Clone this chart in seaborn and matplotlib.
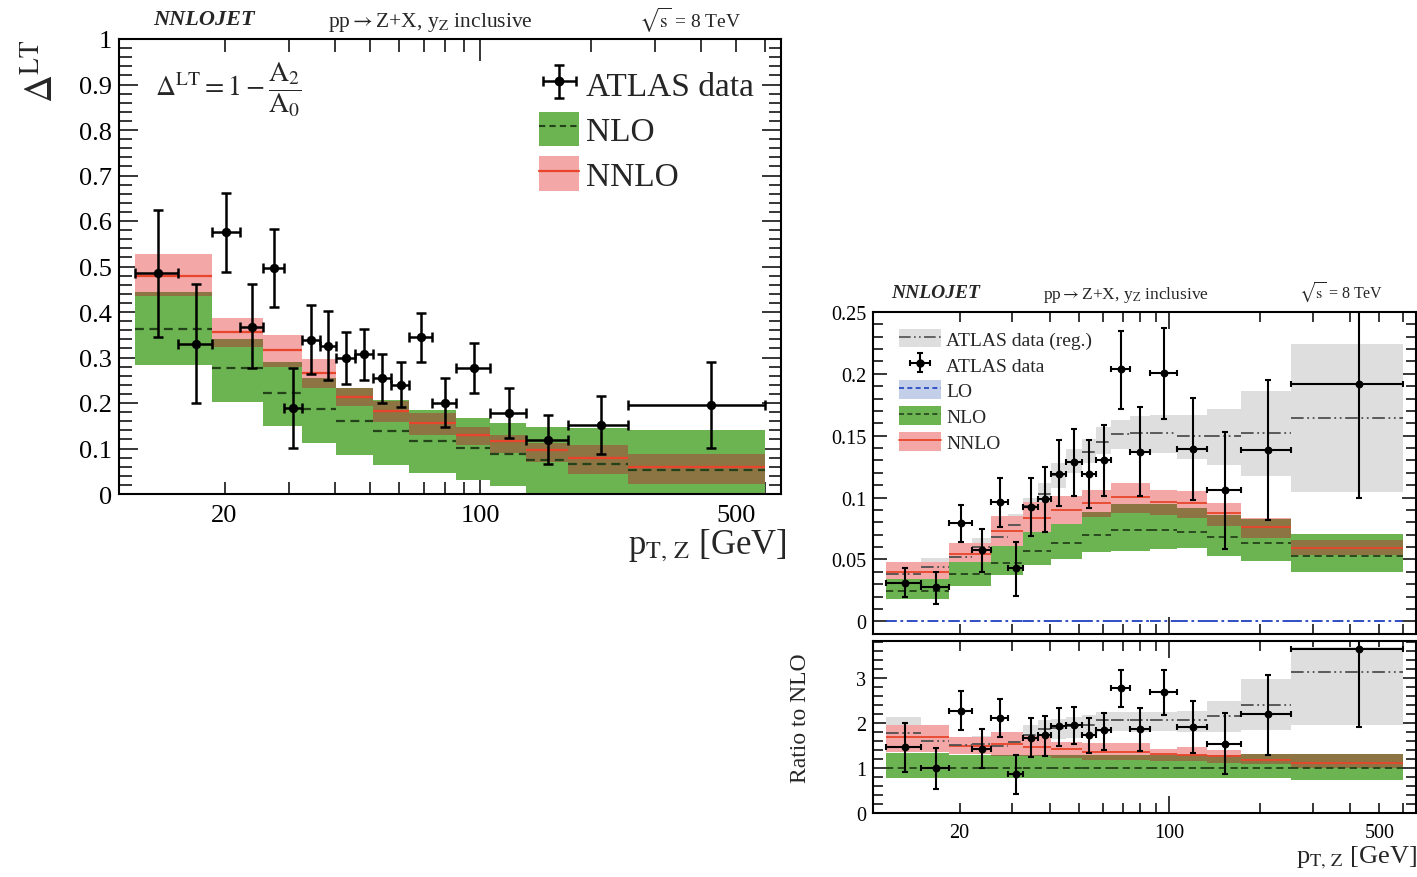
import numpy as np
import matplotlib
matplotlib.use('Agg')
import matplotlib.pyplot as plt
import matplotlib.ticker as mticker
from matplotlib.patches import Patch
from matplotlib.lines import Line2D
import seaborn as sns

# bin edges in p_T,Z [GeV]
data_edges = [11.4, 14.9, 18.5, 22.0, 25.5, 29.0, 32.6, 36.4, 40.4, 45.4, 51.0,
              57.0, 64.0, 73.7, 86.0, 106.0, 133.0, 173.0, 253.0, 600.0]
theo_edges = [11.4, 18.5, 25.5, 32.6, 40.4, 51.0, 64.0, 86.0, 106.0, 133.0, 173.0, 253.0, 600.0]

# left panel: Delta^LT
dlt_data = [0.485, 0.330, 0.575, 0.368, 0.496, 0.188, 0.339, 0.326, 0.300, 0.308,
            0.256, 0.240, 0.344, 0.201, 0.278, 0.177, 0.119, 0.151, 0.195]
dlt_data_hi = [0.624, 0.461, 0.662, 0.461, 0.582, 0.276, 0.416, 0.403, 0.357, 0.363,
               0.308, 0.290, 0.398, 0.254, 0.332, 0.232, 0.173, 0.215, 0.291]
dlt_data_lo = [0.345, 0.200, 0.489, 0.276, 0.411, 0.102, 0.264, 0.251, 0.241, 0.251,
               0.201, 0.192, 0.290, 0.147, 0.223, 0.124, 0.065, 0.087, 0.102]
dlt_nlo = [0.363, 0.276, 0.223, 0.186, 0.160, 0.138, 0.116, 0.102, 0.087, 0.075, 0.066, 0.053]
dlt_nlo_lo = [0.284, 0.203, 0.149, 0.113, 0.085, 0.063, 0.046, 0.031, 0.018, -0.02, -0.02, -0.02]
dlt_nlo_hi = [0.444, 0.340, 0.291, 0.256, 0.234, 0.206, 0.184, 0.166, 0.157, 0.147, 0.144, 0.140]
dlt_nnlo = [0.479, 0.357, 0.317, 0.267, 0.214, 0.183, 0.156, 0.129, 0.116, 0.097, 0.079, 0.060]
dlt_nnlo_lo = [0.436, 0.324, 0.279, 0.234, 0.193, 0.158, 0.130, 0.107, 0.090, 0.070, 0.044, 0.022]
dlt_nnlo_hi = [0.527, 0.387, 0.350, 0.296, 0.233, 0.205, 0.177, 0.147, 0.130, 0.112, 0.107, 0.088]

# right panel: A2 (top)
a2_data = [0.0311, 0.0276, 0.0792, 0.0576, 0.0968, 0.0427, 0.0927, 0.0986, 0.1189, 0.1289,
           0.1189, 0.1303, 0.2040, 0.1372, 0.2004, 0.1394, 0.1059, 0.1384, 0.1921]
a2_data_hi = [0.0427, 0.0397, 0.0938, 0.0749, 0.1162, 0.0641, 0.1162, 0.1249, 0.1465, 0.1554,
              0.1465, 0.1586, 0.2350, 0.1734, 0.2367, 0.1802, 0.1530, 0.1948, 0.2900]
a2_data_lo = [0.0195, 0.0143, 0.0641, 0.0397, 0.0765, 0.0208, 0.0689, 0.0722, 0.0932, 0.1014,
              0.0919, 0.1014, 0.1718, 0.1016, 0.1638, 0.0978, 0.0588, 0.0820, 0.0994]
a2_reg = [0.0386, 0.0441, 0.0522, 0.0600, 0.0684, 0.0778, 0.0930, 0.1030, 0.1180, 0.1290,
          0.1370, 0.1450, 0.1510, 0.1518, 0.1518, 0.1496, 0.1496, 0.1518, 0.1645]
a2_reg_lo = [0.031, 0.036, 0.045, 0.052, 0.060, 0.069, 0.085, 0.095, 0.108, 0.120,
             0.128, 0.135, 0.139, 0.1364, 0.1364, 0.131, 0.1261, 0.1175, 0.1045]
a2_reg_hi = [0.046, 0.0514, 0.060, 0.0676, 0.0765, 0.0865, 0.0995, 0.112, 0.128, 0.139,
             0.147, 0.157, 0.163, 0.166, 0.1671, 0.1671, 0.1712, 0.1861, 0.2239]
a2_lo_order = [0.0] * 12
a2_nlo = [0.0243, 0.0378, 0.0473, 0.0564, 0.0632, 0.0698, 0.0740, 0.0738, 0.0725, 0.0684, 0.0630, 0.0526]
a2_nlo_lo = [0.0181, 0.0289, 0.0370, 0.0451, 0.0505, 0.0556, 0.0570, 0.0583, 0.0590, 0.0530, 0.0488, 0.0397]
a2_nlo_hi = [0.0343, 0.0483, 0.0608, 0.0721, 0.0788, 0.0887, 0.0945, 0.0950, 0.0916, 0.0858, 0.0826, 0.0702]
a2_nnlo = [0.0397, 0.0545, 0.0726, 0.0834, 0.0902, 0.0955, 0.1008, 0.0968, 0.0953, 0.0872, 0.0765, 0.0594]
a2_nnlo_lo = [0.0343, 0.0475, 0.0608, 0.0721, 0.0788, 0.0840, 0.0877, 0.0860, 0.0836, 0.0773, 0.0675, 0.0532]
a2_nnlo_hi = [0.0478, 0.0634, 0.0851, 0.0964, 0.1012, 0.1064, 0.1118, 0.1064, 0.1054, 0.0958, 0.0836, 0.0653]

# right panel: ratio to NLO (bottom)
r_data = [1.47, 1.00, 2.28, 1.43, 2.12, 0.87, 1.67, 1.73, 1.93, 1.97,
          1.73, 1.84, 2.79, 1.86, 2.69, 1.91, 1.54, 2.21, 3.65]
r_data_hi = [2.00, 1.45, 2.71, 1.86, 2.53, 1.30, 2.12, 2.15, 2.34, 2.37,
             2.12, 2.23, 3.19, 2.34, 3.19, 2.50, 2.22, 3.08, 4.60]
r_data_lo = [0.91, 0.54, 1.84, 1.01, 1.69, 0.43, 1.24, 1.27, 1.49, 1.54,
             1.34, 1.41, 2.36, 1.37, 2.19, 1.33, 0.87, 1.30, 1.91]
r_reg = [1.79, 1.60, 1.52, 1.53, 1.50, 1.58, 1.73, 1.87, 1.90, 1.93,
         1.97, 2.06, 2.06, 2.06, 2.06, 2.06, 2.16, 2.41, 3.13]
r_reg_lo = [1.36, 1.35, 1.32, 1.32, 1.30, 1.35, 1.50, 1.62, 1.65, 1.68,
            1.72, 1.80, 1.83, 1.80, 1.82, 1.80, 1.80, 1.84, 1.97]
r_reg_hi = [2.13, 1.90, 1.70, 1.72, 1.72, 1.80, 1.95, 2.06, 2.10, 2.13,
            2.18, 2.24, 2.26, 2.24, 2.26, 2.28, 2.50, 2.99, 3.70]
r_nlo = [1.0] * 12
r_nlo_lo = [0.79, 0.79, 0.79, 0.79, 0.79, 0.79, 0.79, 0.79, 0.79, 0.79, 0.79, 0.74]
r_nlo_hi = [1.33, 1.30, 1.30, 1.30, 1.30, 1.30, 1.30, 1.30, 1.30, 1.30, 1.32, 1.32]
r_nnlo = [1.69, 1.50, 1.53, 1.47, 1.43, 1.36, 1.36, 1.32, 1.30, 1.27, 1.19, 1.12]
r_nnlo_lo = [1.36, 1.32, 1.28, 1.26, 1.23, 1.19, 1.17, 1.16, 1.16, 1.11, 1.10, 1.01]
r_nnlo_hi = [1.95, 1.70, 1.80, 1.71, 1.58, 1.56, 1.55, 1.43, 1.47, 1.41, 1.32, 1.32]

GREEN = '#6cb352'
PINK = '#f4a7a7'
BROWN = '#8c7443'
GRAY = '#dedede'
LOBLUE = '#c3cfe9'
RED = '#e8452c'
NLOLINE = '#24421a'
REGLINE = '#505050'
BLUE = '#1f3fbf'
REG_LS = (0, (7, 2, 1, 2, 1, 2))

sns.set_theme(style='ticks')
plt.rcParams['font.family'] = ['Liberation Serif', 'DejaVu Serif']
plt.rcParams['mathtext.fontset'] = 'stix'
plt.rcParams['axes.linewidth'] = 1.5


def band(ax, edges, lo, hi, color, z):
    e = np.asarray(edges)
    lo = np.asarray(lo)
    hi = np.asarray(hi)
    ax.bar(e[:-1], np.clip(hi - lo, 0, None), width=np.diff(e), bottom=lo,
           align='edge', color=color, linewidth=0, zorder=z)


def steps(ax, edges, c, color, ls, lw, z):
    e = np.asarray(edges)
    ax.hlines(c, e[:-1], e[1:], colors=color, linestyles=ls, linewidth=lw, zorder=z)


def theory(ax, nlo, nlo_lo, nlo_hi, nnlo, nnlo_lo, nnlo_hi, lw):
    band(ax, theo_edges, nlo_lo, nlo_hi, GREEN, 2)
    band(ax, theo_edges, nnlo_lo, nnlo_hi, PINK, 3)
    # where the two bands overlap the reference shows a darker brown
    ov_lo = np.maximum(nlo_lo, nnlo_lo)
    ov_hi = np.minimum(nlo_hi, nnlo_hi)
    band(ax, theo_edges, ov_lo, np.maximum(ov_hi, ov_lo), BROWN, 4)
    steps(ax, theo_edges, nlo, NLOLINE, (0, (4, 2.5)), lw, 5)
    steps(ax, theo_edges, nnlo, RED, '-', lw, 6)


def data(ax, c, lo, hi, lw, cap, ms):
    e = np.asarray(data_edges)
    x = (e[:-1] + e[1:]) / 2
    c = np.asarray(c)
    eb = ax.errorbar(x, c, xerr=[x - e[:-1], e[1:] - x],
                     yerr=[c - np.asarray(lo), np.asarray(hi) - c],
                     fmt='none', ecolor='black', elinewidth=lw, capsize=cap,
                     capthick=lw, zorder=8)
    sns.scatterplot(x=x, y=c, ax=ax, color='black', s=ms, linewidth=0, zorder=9)
    return eb


def style_x(ax, size, major_len, minor_len, labels=True):
    ax.set_xscale('log')
    ax.set_xlim(10.3, 662)
    ax.xaxis.set_major_locator(mticker.FixedLocator([100]))
    ax.xaxis.set_minor_locator(mticker.FixedLocator(
        [20, 30, 40, 50, 60, 70, 80, 90, 200, 300, 400, 500, 600]))
    if labels:
        ax.xaxis.set_major_formatter(mticker.FixedFormatter(['100']))
        ax.xaxis.set_minor_formatter(mticker.FuncFormatter(
            lambda v, p: '%d' % round(v) if round(v) in (20, 500) else ''))
    else:
        ax.xaxis.set_major_formatter(mticker.NullFormatter())
        ax.xaxis.set_minor_formatter(mticker.NullFormatter())
    ax.tick_params(axis='both', which='both', direction='in', top=True, right=True,
                   labelsize=size, width=1.1, colors='black')
    ax.tick_params(axis='both', which='major', length=major_len, pad=7)
    ax.tick_params(axis='both', which='minor', length=minor_len, pad=7)
    ax.tick_params(axis='y', which='major', length=major_len * 0.85, pad=5)
    for s in ax.spines.values():
        s.set_color('black')


fig = plt.figure(figsize=(14.17, 8.78), dpi=100)
W, H = 1417.0, 878.0
ax1 = fig.add_axes([119 / W, 1 - 495 / H, (781 - 119) / W, (495 - 40) / H])
ax2 = fig.add_axes([873 / W, 1 - 635 / H, (1416 - 873) / W, (635 - 313) / H])
ax3 = fig.add_axes([873 / W, 1 - 814 / H, (1416 - 873) / W, (814 - 642) / H])

# ---- left panel ----
theory(ax1, dlt_nlo, dlt_nlo_lo, dlt_nlo_hi, dlt_nnlo, dlt_nnlo_lo, dlt_nnlo_hi, 1.6)
eb1 = data(ax1, dlt_data, dlt_data_lo, dlt_data_hi, 1.8, 3.5, 45)
ax1.set_ylim(0, 1)
ax1.yaxis.set_major_locator(mticker.MultipleLocator(0.1))
ax1.yaxis.set_minor_locator(mticker.MultipleLocator(0.02))
ax1.yaxis.set_major_formatter(mticker.FuncFormatter(lambda v, p: '%g' % round(v, 2)))
style_x(ax1, 19, 16, 9)

h_data = (eb1, Line2D([], [], marker='o', ls='none', color='black', ms=6))
h_nlo = (Patch(color=GREEN, lw=0), Line2D([], [], color=NLOLINE, ls=(0, (3, 2)), lw=1.5))
h_nnlo = (Patch(color=PINK, lw=0), Line2D([], [], color=RED, lw=1.6))
ax1.legend([h_data, h_nlo, h_nnlo], ['ATLAS data', 'NLO', 'NNLO'],
           loc='upper left', bbox_to_anchor=(0.625, 0.953), frameon=False,
           fontsize=24, handlelength=1.2, handleheight=1.2, labelspacing=0.28,
           handletextpad=0.2, borderaxespad=0, borderpad=0.2)

fig.text(204 / W, 1 - 20 / H, 'NNLOJET', fontsize=16, fontweight='bold', style='italic',
         ha='center', va='center')
fig.text(430 / W, 1 - 22 / H, r'pp$\rightarrow$Z+X, y$_{\rm Z}$ inclusive', fontsize=15.5,
         ha='center', va='center')
fig.text(690 / W, 1 - 20 / H, r'$\sqrt{\rm s}$ = 8 TeV', fontsize=14, ha='center', va='center')
fig.text(155 / W, 1 - 90 / H, r'$\Delta^{\rm LT} = 1 - \dfrac{\rm A_2}{\rm A_0}$', fontsize=20,
         ha='left', va='center')
fig.text(44 / W, 1 - 40 / H, r'$\Delta^{\rm LT}$', fontsize=28, rotation=90,
         ha='center', va='top')
fig.text(787 / W, 1 - 527 / H, r'p$_{\rm T,\,Z}$ [GeV]', fontsize=25, ha='right', va='top')

# ---- right top panel ----
band(ax2, data_edges, a2_reg_lo, a2_reg_hi, GRAY, 1)
theory(ax2, a2_nlo, a2_nlo_lo, a2_nlo_hi, a2_nnlo, a2_nnlo_lo, a2_nnlo_hi, 1.3)
steps(ax2, data_edges, a2_reg, REGLINE, REG_LS, 1.3, 7)
steps(ax2, theo_edges, a2_lo_order, BLUE, (0, (6, 2, 1.5, 2)), 1.3, 7)
eb2 = data(ax2, a2_data, a2_data_lo, a2_data_hi, 1.5, 2.5, 32)
ax2.set_ylim(-0.0103, 0.25)
ax2.yaxis.set_major_locator(mticker.MultipleLocator(0.05))
ax2.yaxis.set_minor_locator(mticker.MultipleLocator(0.01))
ax2.yaxis.set_major_formatter(mticker.FuncFormatter(lambda v, p: '%g' % round(v, 3)))
style_x(ax2, 14.5, 12, 7, labels=False)

h_reg = (Patch(color=GRAY, lw=0), Line2D([], [], color=REGLINE, ls=REG_LS, lw=1.2))
h_data2 = (eb2, Line2D([], [], marker='o', ls='none', color='black', ms=5))
h_lo = (Patch(color=LOBLUE, lw=0), Line2D([], [], color=BLUE, ls=(0, (3, 2)), lw=1.2))
h_nlo2 = (Patch(color=GREEN, lw=0), Line2D([], [], color=NLOLINE, ls=(0, (3, 2)), lw=1.2))
h_nnlo2 = (Patch(color=PINK, lw=0), Line2D([], [], color=RED, lw=1.3))
ax2.legend([h_reg, h_data2, h_lo, h_nlo2, h_nnlo2],
           ['ATLAS data (reg.)', 'ATLAS data', 'LO', 'NLO', 'NNLO'],
           loc='upper left', bbox_to_anchor=(0.04, 0.96), frameon=False,
           fontsize=14, handlelength=2.2, handleheight=1.1, labelspacing=0.3,
           handletextpad=0.25, borderaxespad=0, borderpad=0.2)

fig.text(936 / W, 1 - 293 / H, 'NNLOJET', fontsize=14, fontweight='bold', style='italic',
         ha='center', va='center')
fig.text(1126 / W, 1 - 295 / H, r'pp$\rightarrow$Z+X, y$_{\rm Z}$ inclusive', fontsize=12.5,
         ha='center', va='center')
fig.text(1341 / W, 1 - 293 / H, r'$\sqrt{\rm s}$ = 8 TeV', fontsize=11.5, ha='center', va='center')

# ---- ratio panel ----
band(ax3, data_edges, r_reg_lo, r_reg_hi, GRAY, 1)
theory(ax3, r_nlo, r_nlo_lo, r_nlo_hi, r_nnlo, r_nnlo_lo, r_nnlo_hi, 1.3)
steps(ax3, data_edges, r_reg, REGLINE, REG_LS, 1.3, 7)
data(ax3, r_data, r_data_lo, r_data_hi, 1.5, 2.5, 32)
ax3.set_ylim(0, 3.83)
ax3.yaxis.set_major_locator(mticker.MultipleLocator(1))
ax3.yaxis.set_minor_locator(mticker.MultipleLocator(0.2))
style_x(ax3, 14.5, 12, 7)

fig.text(801 / W, 1 - 718 / H, 'Ratio to NLO', fontsize=17, rotation=90, ha='center', va='center')
fig.text(1417 / W, 1 - 858 / H, r'p$_{\rm T,\,Z}$ [GeV]', fontsize=19, ha='right', va='center')

fig.savefig('out.png', dpi=100)
